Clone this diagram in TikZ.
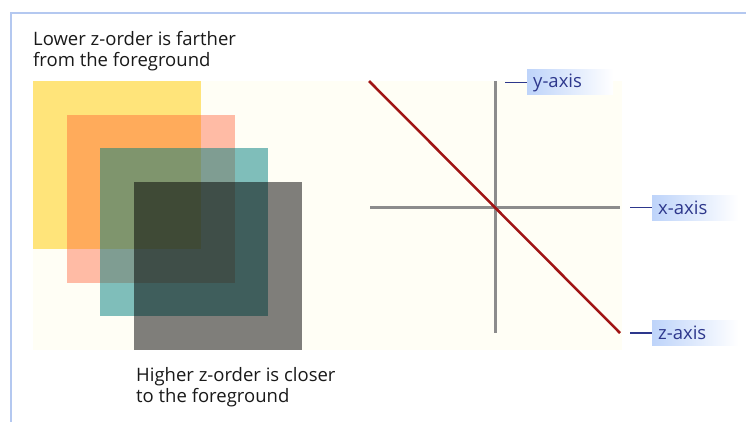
\documentclass[tikz,border=0pt]{standalone}
\usepackage{fontspec}
\setmainfont{Open Sans}
\definecolor{framecol}{RGB}{180,200,240}
\definecolor{cream}{RGB}{255,254,245}
\definecolor{sqyellow}{RGB}{255,204,0}
\definecolor{sqsalmon}{RGB}{255,87,45}
\definecolor{sqteal}{RGB}{0,128,128}
\definecolor{axisgray}{RGB}{140,140,140}
\definecolor{zred}{RGB}{160,20,20}
\definecolor{labelblue}{RGB}{45,55,140}
\definecolor{boxblue}{RGB}{190,212,250}
\definecolor{textdark}{RGB}{25,25,25}
\begin{document}
\begin{tikzpicture}[x=1pt,y=-1pt,
  sqbox/.style={fill opacity=0.5},
  maintext/.style={anchor=base west, inner sep=0pt, text=textdark, font=\fontsize{18.5}{21}\selectfont},
  axisline/.style={draw=axisgray, line width=3pt},
  axlabel/.style={anchor=west, left color=boxblue, right color=white, draw=none,
    text=labelblue, font=\fontsize{18.5}{21}\selectfont,
    text width=74pt, align=left, inner xsep=6pt, inner ysep=0pt, minimum height=25pt},
  leader/.style={draw=labelblue, line width=1.8pt}
]
\useasboundingbox (0,0) rectangle (746,422);
% frame
\draw[framecol, line width=1.5pt] (11,422) -- (11,13) -- (746,13);
% cream area
\fill[cream] (33,81) rectangle (622,350);
% squares
\fill[sqbox, sqyellow] (33,81) rectangle (201,249);
\fill[sqbox, sqsalmon, fill opacity=0.4] (67,115) rectangle (235,283);
\fill[sqbox, sqteal] (100,148) rectangle (268,316);
\fill[sqbox, black] (134,182) rectangle (302,350);
% texts
\node[maintext] (t1) at (33,46) {Lower z-order is farther};
\node[maintext] (t2) at (33,67) {from the foreground};
\node[maintext] (t3) at (136,381) {Higher z-order is closer};
\node[maintext] (t4) at (136,402) {to the foreground};
% axes
\coordinate (ytop) at (495,81);
\coordinate (ybot) at (495,333);
\coordinate (xl) at (370,207);
\coordinate (xr) at (620,207);
\coordinate (zs) at (369,81);
\coordinate (ze) at (620,333);
\draw[axisline] (ytop) -- (ybot);
\draw[axisline] (xl) -- (xr);
\draw[zred, line width=2.5pt] (zs) -- (ze);
% labels
\node[axlabel] (ylab) at (527,82.5) {y-axis};
\node[axlabel] (xlab) at (652,207.5) {x-axis};
\node[axlabel] (zlab) at (652,333) {z-axis};
\coordinate (yl) at (505,82.5);
\coordinate (xll) at (630,207.5);
\coordinate (zl) at (630,333);
\draw[leader] (yl) -- (ylab.west);
\draw[leader] (xll) -- (xlab.west);
\draw[leader] (zl) -- (zlab.west);
\end{tikzpicture}
\end{document}
